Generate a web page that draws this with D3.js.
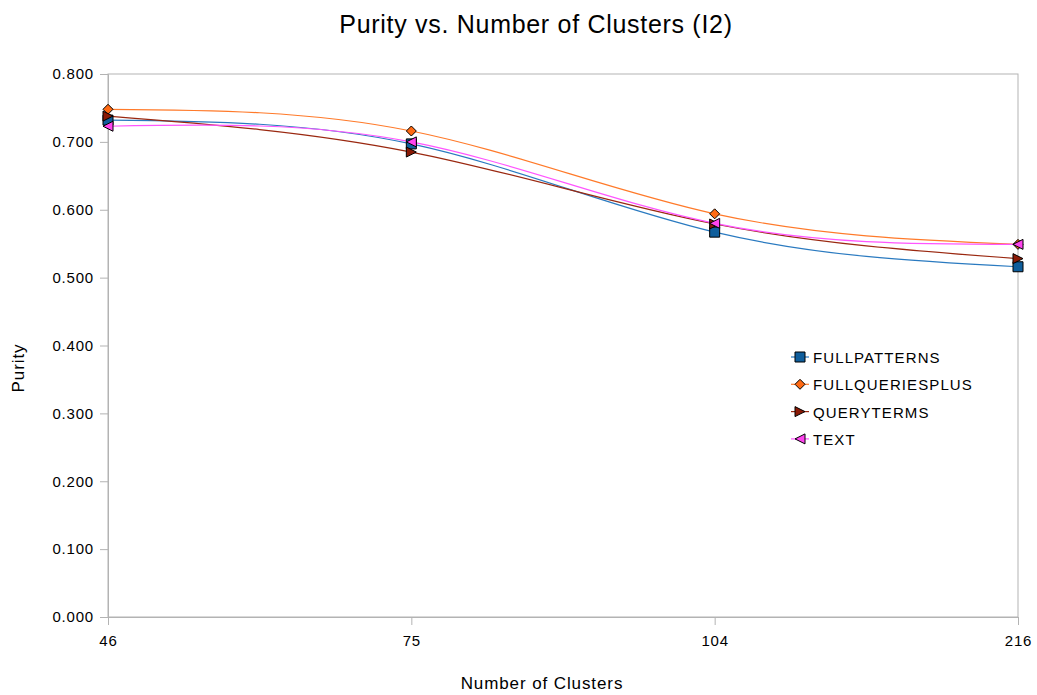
<!DOCTYPE html>
<html>
<head>
<meta charset="utf-8">
<script src="https://cdn.jsdelivr.net/npm/d3@7"></script>
<style>
  body { margin: 0; background: #fff; }
  text { font-family: "Liberation Sans", Arial, sans-serif; fill: #000; }
</style>
</head>
<body>
<div id="chart"></div>
<script>
const width = 1037;
const height = 695;

// data
const clusters = ['46', '75', '104', '216'];
const seriesNames = ['FULLPATTERNS', 'FULLQUERIESPLUS', 'QUERYTERMS', 'TEXT'];
const fullPatterns = [0.732, 0.697, 0.567, 0.516];
const fullQueriesPlus = [0.748, 0.716, 0.594, 0.549];
const queryTerms = [0.738, 0.685, 0.579, 0.528];
const textSeries = [0.723, 0.700, 0.580, 0.549];
const yTicks = [0, 0.1, 0.2, 0.3, 0.4, 0.5, 0.6, 0.7, 0.8];

const colors = ['#0f5e9c', '#ff6a14', '#8b1a06', '#ff44ee'];
const lineColors = ['#2a7ac0', '#ff7a2a', '#9a2810', '#ff55ff'];
const shapes = ['square', 'diamond', 'right', 'left'];

const x = d3.scalePoint().domain(clusters).range([108, 1018]);
const y = d3.scaleLinear().domain([0, 0.8]).range([617, 74]);

const svg = d3.select('#chart').append('svg')
    .attr('width', width)
    .attr('height', height);

// plot frame
svg.append('rect')
    .attr('x', 108).attr('y', 74)
    .attr('width', 1018 - 108).attr('height', 617 - 74)
    .style('fill', 'none')
    .style('stroke', '#b3b3b3');

// y axis
const yAxis = svg.append('g')
    .attr('transform', 'translate(108,0)')
    .call(d3.axisLeft(y).tickValues(yTicks).tickFormat(d3.format('.3f')).tickSize(8).tickPadding(6));
yAxis.select('.domain').style('stroke', '#b3b3b3');
yAxis.selectAll('.tick line').style('stroke', '#b3b3b3');
yAxis.selectAll('text')
    .style('font-size', '15px')
    .style('letter-spacing', '0.8px')
    .style('font-family', 'Liberation Sans, Arial, sans-serif');

// x axis
const xAxis = svg.append('g')
    .attr('transform', 'translate(0,617)')
    .call(d3.axisBottom(x).tickSize(8).tickPadding(10));
xAxis.select('.domain').style('stroke', '#b3b3b3');
xAxis.selectAll('.tick line').style('stroke', '#b3b3b3');
xAxis.selectAll('text')
    .style('font-size', '15px')
    .style('letter-spacing', '0.8px')
    .style('font-family', 'Liberation Sans, Arial, sans-serif');

// titles
svg.append('text')
    .attr('x', 536).attr('y', 33)
    .attr('text-anchor', 'middle')
    .style('font-size', '25px')
    .style('letter-spacing', '0.7px')
    .text('Purity vs. Number of Clusters (I2)');

svg.append('text')
    .attr('x', 542).attr('y', 689)
    .attr('text-anchor', 'middle')
    .style('font-size', '17px')
    .style('letter-spacing', '0.9px')
    .text('Number of Clusters');

svg.append('text')
    .attr('transform', 'translate(24,368) rotate(-90)')
    .attr('text-anchor', 'middle')
    .style('font-size', '17px')
    .style('letter-spacing', '0.9px')
    .text('Purity');

function marker(g, shape, color, cx, cy) {
    const s = 5;
    let d;
    if (shape === 'square') d = `M${cx - s},${cy - s}h${2 * s}v${2 * s}h${-2 * s}Z`;
    else if (shape === 'diamond') d = `M${cx},${cy - s}L${cx + s},${cy}L${cx},${cy + s}L${cx - s},${cy}Z`;
    else if (shape === 'right') d = `M${cx - s},${cy - s}L${cx + s},${cy}L${cx - s},${cy + s}Z`;
    else d = `M${cx + s},${cy - s}L${cx - s},${cy}L${cx + s},${cy + s}Z`;
    g.append('path')
        .attr('d', d)
        .style('fill', color)
        .style('stroke', '#000')
        .style('stroke-width', 1);
}

const allSeries = [fullPatterns, fullQueriesPlus, queryTerms, textSeries];
const line = d3.line()
    .x((d, i) => x(clusters[i]))
    .y(d => y(d))
    .curve(d3.curveNatural);

allSeries.forEach((vals, k) => {
    svg.append('path')
        .attr('d', line(vals))
        .style('fill', 'none')
        .style('stroke', lineColors[k])
        .style('stroke-width', 1.2);
});

allSeries.forEach((vals, k) => {
    const g = svg.append('g');
    vals.forEach((v, i) => marker(g, shapes[k], colors[k], x(clusters[i]), y(v)));
});

// legend
const legend = svg.append('g');
seriesNames.forEach((name, k) => {
    const ly = 357 + k * 27.3;
    legend.append('line')
        .attr('x1', 791).attr('x2', 809)
        .attr('y1', ly).attr('y2', ly)
        .style('stroke', lineColors[k])
        .style('stroke-width', 1.2);
    marker(legend, shapes[k], colors[k], 800, ly);
    legend.append('text')
        .attr('x', 813).attr('y', ly + 6)
        .style('font-size', '15px')
        .style('letter-spacing', '1.1px')
        .text(name);
});
</script>
</body>
</html>
